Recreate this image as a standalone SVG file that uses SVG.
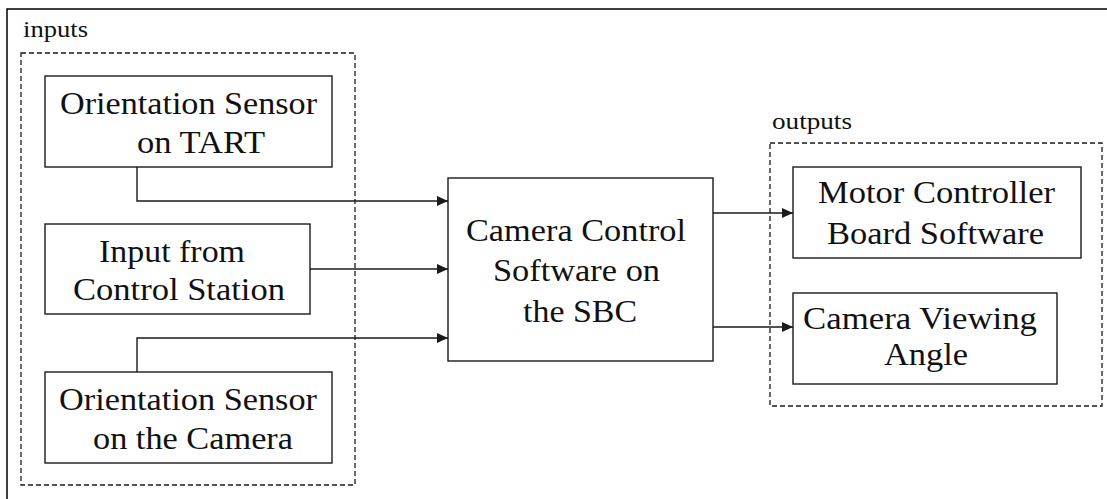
<svg xmlns="http://www.w3.org/2000/svg" width="1107" height="499" viewBox="0 0 1107 499">
  <style>
    .box { fill: #ffffff; stroke: #1a1a1a; stroke-width: 1.4; }
    .group { fill: none; stroke: #1a1a1a; stroke-width: 1.3; stroke-dasharray: 5 3; }
    .frame { fill: none; stroke: #000000; stroke-width: 1.5; }
    .wire { fill: none; stroke: #1a1a1a; stroke-width: 1.4; }
  </style>
  <defs>
    <marker id="arrow" markerUnits="userSpaceOnUse" markerWidth="12" markerHeight="12" refX="11" refY="5" orient="auto">
      <path d="M0,0 L11,5 L0,10 Z" fill="#1a1a1a"/>
    </marker>
  </defs>

  <rect width="1107" height="499" fill="#ffffff"/>
  <!-- page frame (top and left edges only) -->
  <path class="frame" d="M7,499 V9 H1107"/>

  <g font-family="Liberation Serif" fill="#111111">
    <!-- groupings -->
    <g id="inputs-group" font-size="24">
      <rect class="group" x="21" y="53" width="334" height="432"/>
      <text x="23" y="37" textLength="65" lengthAdjust="spacingAndGlyphs">inputs</text>
    </g>
    <g id="outputs-group" font-size="24">
      <rect class="group" x="770" y="143" width="332" height="263"/>
      <text x="772" y="129" textLength="80" lengthAdjust="spacingAndGlyphs">outputs</text>
    </g>

    <g font-size="32">
      <!-- input nodes -->
      <g id="orientation-tart">
        <rect class="box" x="45" y="76" width="287" height="91"/>
        <text x="60" y="114" textLength="257" lengthAdjust="spacingAndGlyphs">Orientation Sensor</text>
        <text x="137" y="153" textLength="128" lengthAdjust="spacingAndGlyphs">on TART</text>
      </g>
      <g id="control-station">
        <rect class="box" x="45" y="224" width="265" height="90"/>
        <text x="99" y="262" textLength="146" lengthAdjust="spacingAndGlyphs">Input from</text>
        <text x="73" y="300" textLength="212" lengthAdjust="spacingAndGlyphs">Control Station</text>
      </g>
      <g id="orientation-camera">
        <rect class="box" x="45" y="372" width="287" height="91"/>
        <text x="59" y="410" textLength="258" lengthAdjust="spacingAndGlyphs">Orientation Sensor</text>
        <text x="93" y="449" textLength="200" lengthAdjust="spacingAndGlyphs">on the Camera</text>
      </g>

      <!-- central node -->
      <g id="camera-control">
        <rect class="box" x="448" y="178" width="265" height="183"/>
        <text x="466" y="241" textLength="220" lengthAdjust="spacingAndGlyphs">Camera Control</text>
        <text x="493" y="281" textLength="167" lengthAdjust="spacingAndGlyphs">Software on</text>
        <text x="523" y="322" textLength="114" lengthAdjust="spacingAndGlyphs">the SBC</text>
      </g>

      <!-- output nodes -->
      <g id="motor-controller">
        <rect class="box" x="793" y="167" width="288" height="91"/>
        <text x="818" y="203" textLength="237" lengthAdjust="spacingAndGlyphs">Motor Controller</text>
        <text x="827" y="244" textLength="217" lengthAdjust="spacingAndGlyphs">Board Software</text>
      </g>
      <g id="viewing-angle">
        <rect class="box" x="793" y="293" width="264" height="91"/>
        <text x="803" y="329" textLength="234" lengthAdjust="spacingAndGlyphs">Camera Viewing</text>
        <text x="884" y="365" textLength="84" lengthAdjust="spacingAndGlyphs">Angle</text>
      </g>
    </g>
  </g>

  <!-- connectors -->
  <g id="connectors">
    <path class="wire" d="M137,167 V201 H448" marker-end="url(#arrow)"/>
    <path class="wire" d="M310,269 H448" marker-end="url(#arrow)"/>
    <path class="wire" d="M137,372 V338 H448" marker-end="url(#arrow)"/>
    <path class="wire" d="M713,213 H793" marker-end="url(#arrow)"/>
    <path class="wire" d="M713,327 H793" marker-end="url(#arrow)"/>
  </g>
</svg>
